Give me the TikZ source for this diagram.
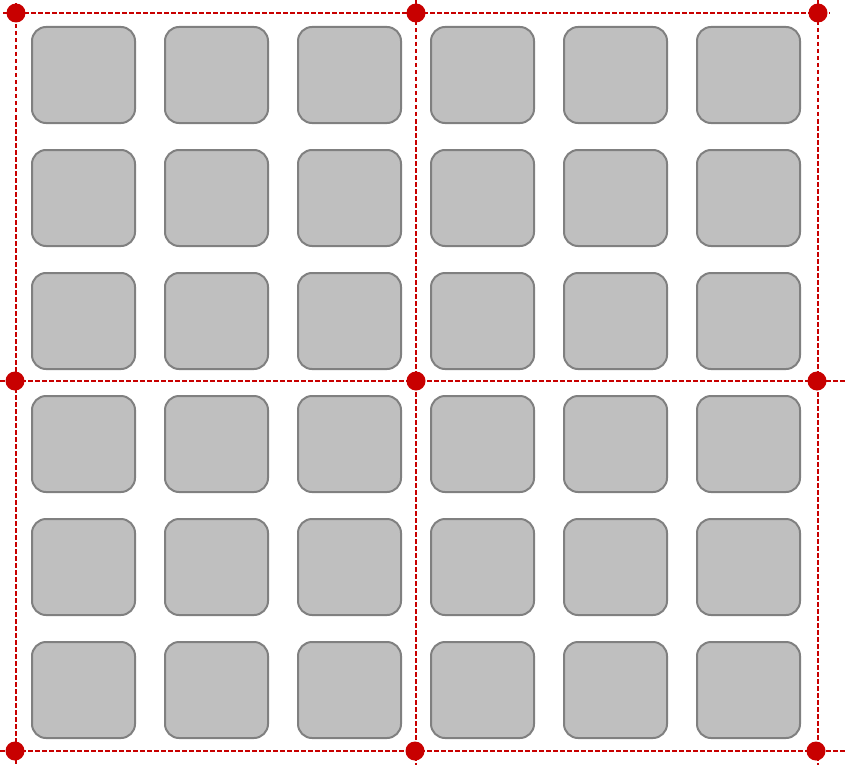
\documentclass[tikz,border=0pt]{standalone}
\usepackage{tikz}
\usetikzlibrary{calc}

\definecolor{gridred}{HTML}{C80000}
\definecolor{cellfill}{HTML}{BFBFBF}
\definecolor{celldraw}{HTML}{808080}

\tikzset{
  cell/.style={draw=celldraw, fill=cellfill, line width=2pt, rounded corners=14pt,
    minimum width=103pt, minimum height=96pt, inner sep=0pt},
  guide/.style={gridred, line width=1.6pt, dash pattern=on 4.5pt off 2.5pt},
  pin/.style={circle, fill=gridred, minimum size=19pt, inner sep=0pt},
}

\begin{document}
\begin{tikzpicture}[x=1pt, y=-1pt]
    \useasboundingbox (0,0) rectangle (845,765);

    % cells
    \foreach \cx [count=\i] in {83.5,216.5,349.5,482.5,615.5,748.5}
      \foreach \cy [count=\j] in {75,198,321,444,567,690}
        \node[cell] (cell\j\i) at (\cx,\cy) {};

    % guide ends
    \coordinate (top-w) at (3,13);    \coordinate (top-e) at (830,13);
    \coordinate (mid-w) at (0,381);   \coordinate (mid-e) at (845,381);
    \coordinate (bot-w) at (0,751);   \coordinate (bot-e) at (845,751);
    \coordinate (left-n) at (16,3);   \coordinate (left-s) at (16,765);
    \coordinate (cen-n) at (416,0);   \coordinate (cen-s) at (416,765);
    \coordinate (right-n) at (818,0); \coordinate (right-s) at (818,765);

    \draw[guide] (top-w) -- (top-e);
    \draw[guide] (mid-w) -- (mid-e);
    \draw[guide] (bot-w) -- (bot-e);
    \draw[guide] (left-n) -- (left-s);
    \draw[guide] (cen-n) -- (cen-s);
    \draw[guide] (right-n) -- (right-s);

    % pins
    \node[pin] (pin11) at (16,13) {};
    \node[pin] (pin12) at (416,13) {};
    \node[pin] (pin13) at (818,13) {};
    \node[pin] (pin21) at (15,381) {};
    \node[pin] (pin22) at (416,381) {};
    \node[pin] (pin23) at (817,381) {};
    \node[pin] (pin31) at (15,751) {};
    \node[pin] (pin32) at (415,751) {};
    \node[pin] (pin33) at (816,751) {};
\end{tikzpicture}
\end{document}
